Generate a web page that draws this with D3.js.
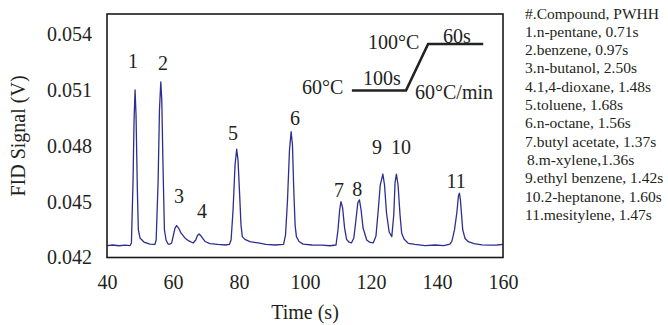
<!DOCTYPE html>
<html>
<head>
<meta charset="utf-8">
<script src="https://cdn.jsdelivr.net/npm/d3@7"></script>
<style>
  body { margin: 0; background: #fff; }
  text { font-family: "Liberation Serif", "Times New Roman", serif; fill: #231f20; }
</style>
</head>
<body>
<div id="chart"></div>
<script>
// chromatogram trace: time (s), FID signal (V)
const traceTime = [40.0, 41.8, 43.6, 45.5, 47.0, 47.4, 47.9, 48.2, 48.5, 48.8, 49.2, 49.5, 50.0, 51.2, 53.0, 54.5,
  54.9, 55.5, 55.9, 56.3, 56.6, 57.0, 57.4, 57.9, 58.5, 59.1, 59.6, 60.0, 60.6, 61.1, 61.7, 62.4, 63.6, 64.8, 66.1,
  66.9, 67.4, 67.9, 68.5, 69.7, 71.2, 73.6, 75.8, 77.1, 77.6, 78.2, 78.8, 79.3, 79.7, 80.2, 80.6, 81.0, 81.8, 83.3,
  85.8, 88.2, 90.9, 93.5, 94.1, 94.7, 95.3, 95.8, 96.2, 96.6, 97.0, 97.4, 98.2, 99.4, 102.1, 105.2, 107.6, 109.4,
  110.0, 110.5, 110.9, 111.4, 112.0, 112.6, 113.3, 114.1, 114.8, 115.5, 116.0, 116.5, 117.0, 117.6, 118.7, 119.7,
  120.7, 121.5, 122.2, 122.8, 123.6, 124.1, 124.7, 125.5, 126.3, 126.9, 127.3, 127.7, 128.2, 128.8, 129.3, 130.0,
  131.3, 133.3, 136.4, 139.4, 142.1, 143.9, 144.5, 145.3, 146.0, 146.5, 146.8, 147.1, 147.8, 148.5, 149.5, 151.2,
  153.6, 156.1, 158.2, 160.0];
const traceSignal = [0.04264, 0.04267, 0.04263, 0.04266, 0.04264, 0.04278, 0.04616, 0.04938, 0.05099, 0.04965,
  0.04562, 0.04348, 0.04305, 0.04283, 0.04272, 0.04270, 0.04294, 0.04616, 0.04992, 0.05142, 0.05046, 0.04670,
  0.04348, 0.04294, 0.04272, 0.04272, 0.04278, 0.04310, 0.04358, 0.04371, 0.04358, 0.04332, 0.04305, 0.04289,
  0.04278, 0.04294, 0.04318, 0.04326, 0.04315, 0.04286, 0.04275, 0.04270, 0.04267, 0.04270, 0.04294, 0.04455,
  0.04697, 0.04781, 0.04723, 0.04536, 0.04375, 0.04312, 0.04297, 0.04285, 0.04278, 0.04270, 0.04267, 0.04270,
  0.04321, 0.04509, 0.04777, 0.04875, 0.04804, 0.04562, 0.04374, 0.04312, 0.04286, 0.04272, 0.04267, 0.04266,
  0.04263, 0.04267, 0.04348, 0.04455, 0.04500, 0.04466, 0.04358, 0.04297, 0.04283, 0.04279, 0.04305, 0.04412,
  0.04493, 0.04509, 0.04455, 0.04358, 0.04294, 0.04281, 0.04279, 0.04315, 0.04455, 0.04589, 0.04648, 0.04589,
  0.04439, 0.04337, 0.04312, 0.04428, 0.04605, 0.04648, 0.04589, 0.04428, 0.04330, 0.04299, 0.04276, 0.04270,
  0.04264, 0.04267, 0.04264, 0.04272, 0.04286, 0.04348, 0.04439, 0.04530, 0.04545, 0.04509, 0.04348, 0.04302,
  0.04285, 0.04275, 0.04268, 0.04266, 0.04267, 0.04270];

// peak number labels (where they sit, in data units)
const peakNames = ["1", "2", "3", "4", "5", "6", "7", "8", "9", "10", "11"];
const peakLabelTime = [47.9, 57.0, 61.8, 68.8, 78.2, 97.0, 110.3, 115.8, 121.8, 129.1, 145.8];
const peakLabelSignal = [0.05255, 0.05244, 0.04530, 0.04450, 0.04868, 0.04949, 0.04562, 0.04568, 0.04793, 0.04793, 0.04611];

// legend
const compounds = ["n-pentane", "benzene", "n-butanol", "1,4-dioxane", "toluene", "n-octane",
  "butyl acetate", "m-xylene", "ethyl benzene", "2-heptanone", "mesitylene"];
const pwhh = ["0.71", "0.97", "2.50", "1.48", "1.68", "1.56", "1.37", "1.36", "1.42", "1.60", "1.47"];

const xTicks = [40, 60, 80, 100, 120, 140, 160];
const yTicks = [0.042, 0.045, 0.048, 0.051, 0.054];

// oven program sketch (schematic, placed in chart units)
const programTime = [114.2, 130.6, 137.3, 154.0];
const programSignal = [0.05096, 0.05096, 0.05346, 0.05346];

const width = 668
const height = 325
const margin = { top: 14, right: 165, bottom: 67.5, left: 107 }

const svg = d3.select("#chart").append("svg")
  .attr("width", width)
  .attr("height", height)

const x = d3.scaleLinear().domain([40, 160]).range([margin.left, width - margin.right])
const y = d3.scaleLinear().domain([0.042, 0.05507]).range([height - margin.bottom, margin.top])

// axes: labels only, no tick marks
const xAxis = svg.append("g")
  .attr("transform", "translate(0," + (height - margin.bottom) + ")")
  .call(d3.axisBottom(x).tickValues(xTicks).tickSize(0).tickPadding(17))
xAxis.select(".domain").remove()
xAxis.selectAll("text").style("font-size", "20px").style("font-family", null)

const yAxis = svg.append("g")
  .attr("transform", "translate(" + margin.left + ",0)")
  .call(d3.axisLeft(y).tickValues(yTicks).tickFormat(d3.format(".3f")).tickSize(0).tickPadding(15))
yAxis.select(".domain").remove()
yAxis.selectAll("text").style("font-size", "20px").style("font-family", null)

// trace
const line = d3.line()
  .x((d, i) => x(traceTime[i]))
  .y(d => y(d))

svg.append("path")
  .datum(traceSignal)
  .attr("d", line)
  .attr("fill", "none")
  .attr("stroke", "#2e2e90")
  .attr("stroke-width", 1.3)
  .attr("stroke-linejoin", "round")

// frame
svg.append("rect")
  .attr("x", margin.left)
  .attr("y", margin.top)
  .attr("width", width - margin.left - margin.right)
  .attr("height", height - margin.top - margin.bottom)
  .attr("fill", "none")
  .attr("stroke", "#1a1a1a")
  .attr("stroke-width", 1.6)

// peak numbers
svg.append("g")
  .selectAll("text")
  .data(peakNames)
  .enter().append("text")
  .attr("x", (d, i) => x(peakLabelTime[i]))
  .attr("y", (d, i) => y(peakLabelSignal[i]))
  .attr("dy", "0.35em")
  .attr("text-anchor", "middle")
  .style("font-size", "20px")
  .text(d => d)

// temperature program inset
svg.append("path")
  .datum(programSignal)
  .attr("d", d3.line().x((d, i) => x(programTime[i])).y(d => y(d)))
  .attr("fill", "none")
  .attr("stroke", "#222")
  .attr("stroke-width", 2.6)

const inset = [
  { t: "60°C", px: 302, py: 94, anchor: "start" },
  { t: "100s", px: 363, py: 85, anchor: "start" },
  { t: "100°C", px: 368, py: 49, anchor: "start" },
  { t: "60s", px: 443, py: 43, anchor: "start" },
  { t: "60°C/min", px: 415, py: 99, anchor: "start" }
]
svg.append("g")
  .selectAll("text")
  .data(inset)
  .enter().append("text")
  .attr("x", d => d.px)
  .attr("y", d => d.py)
  .attr("text-anchor", d => d.anchor)
  .style("font-size", "20px")
  .text(d => d.t)

// axis titles
svg.append("text")
  .attr("x", (margin.left + width - margin.right) / 2)
  .attr("y", 319)
  .attr("text-anchor", "middle")
  .style("font-size", "20px")
  .text("Time (s)")

svg.append("text")
  .attr("transform", "translate(25,136) rotate(-90)")
  .attr("text-anchor", "middle")
  .style("font-size", "20px")
  .text("FID Signal (V)")

// legend list
const legendLines = ["#.Compound, PWHH"].concat(
  compounds.map((c, i) => (i + 1) + "." + c + (i === 7 ? "," : ", ") + pwhh[i] + "s"))

svg.append("g")
  .selectAll("text")
  .data(legendLines)
  .enter().append("text")
  .attr("x", (d, i) => i === 8 ? 527 : 525)
  .attr("y", (d, i) => 18.5 + i * 18.33)
  .style("font-size", "15.5px")
  .text(d => d)
</script>
</body>
</html>
